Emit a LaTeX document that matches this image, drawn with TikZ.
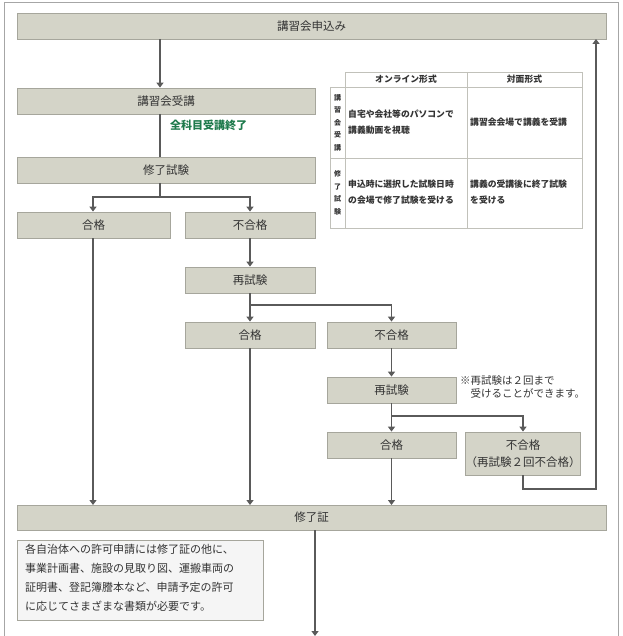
\documentclass[tikz,border=0pt]{standalone}
\usepackage{fontspec}
\setmainfont{Noto Sans CJK JP}
\usetikzlibrary{arrows.meta}
\definecolor{boxfill}{HTML}{D4D4C8}
\definecolor{boxline}{HTML}{A6A69C}
\definecolor{arr}{HTML}{5A5A5A}
\definecolor{grn}{HTML}{1E7A4C}
\definecolor{txt}{HTML}{333333}
\tikzset{
 bx/.style={draw=boxline,fill=boxfill,line width=0.8pt,text=txt,font=\fontsize{11.5}{14}\selectfont,inner sep=0pt},
 ar/.style={draw=arr,line width=1.4pt,-{Triangle[length=5pt,width=7pt]}},
 ln/.style={draw=arr,line width=1.4pt},
 tb/.style={draw=boxline!70,line width=0.6pt},
 tt/.style={font=\bfseries\fontsize{8.8}{16}\selectfont,text=txt,align=left,anchor=west,inner sep=0pt},
}
\newcommand{\bxat}[6]{\node[bx,minimum width=#4-#2,minimum height=#5-#3,align=center] (#1) at ({(#2+#4)/2},{(#3+#5)/2}) {#6};}
\begin{document}
\begin{tikzpicture}[x=1pt,y=-1pt]
\useasboundingbox (0,0) rectangle (622,636);
\draw[draw=gray!70,line width=0.8pt] (4,2) -- (618,2) -- (618,640) (4,2) -- (4,640);
\bxat{apply}{17}{13}{606}{39}{講習会申込み}
\bxat{lect}{17}{88}{315}{114}{講習会受講}
\node[text=grn,font=\bfseries\fontsize{11}{13}\selectfont,anchor=west,inner sep=0pt] (done) at (170,125) {全科目受講終了};
\bxat{exam}{17}{157}{315}{183}{修了試験}
\bxat{p1}{17}{212}{170}{238}{合格}
\bxat{f1}{185}{212}{315}{238}{不合格}
\bxat{r1}{185}{267}{315}{293}{再試験}
\bxat{p2}{185}{322}{315}{348}{合格}
\bxat{f2}{327}{322}{456}{348}{不合格}
\bxat{r2}{327}{377}{456}{403}{再試験}
\bxat{p3}{327}{432}{456}{458}{合格}
\node[bx,minimum width=110,minimum height=43,align=center,font=\fontsize{11.5}{17}\selectfont] (f3) at (523,453.5) {不合格\\（再試験２回不合格）};
\bxat{cert}{17}{505}{606}{530}{修了証}
\node[anchor=north west,text=txt,font=\fontsize{10.5}{13}\selectfont,inner sep=0pt,align=left] (note) at (460,375) {※再試験は２回まで\\\hspace*{1em}受けることができます。};
\node[draw=boxline,fill=gray!8,minimum width=246pt,minimum height=80pt,anchor=north west,inner sep=0pt] (docs) at (17,540) {};
\node[anchor=north west,text=txt,font=\fontsize{11}{19}\selectfont,align=left,inner sep=0pt] at (25,544) {各自治体への許可申請には修了証の他に、\\事業計画書、施設の見取り図、運搬車両の\\証明書、登記簿謄本など、申請予定の許可\\に応じてさまざまな書類が必要です。};
% arrows
\draw[ar] (160,39) -- (lect.north -| 160,0);
\draw[ln] (160,114) -- (160,157);
\draw[ln] (160,183) -- (160,197) coordinate (b1);
\draw[ar] (b1) -| (p1.north -| 93,0);
\draw[ar] (b1) -| (f1.north);
\draw[ar] (f1.south) -- (r1.north);
\draw[ln] (r1.south) -- (250,305) coordinate (b2);
\draw[ar] (b2) -- (p2.north);
\draw[ar] (b2) -| (f2.north);
\draw[ar] (f2.south) -- (r2.north);
\draw[ln] (r2.south) -- (391.5,416) coordinate (b3);
\draw[ar] (b3) -- (p3.north);
\draw[ar] (b3) -| (f3.north);
\draw[ar] (f3.south) -- (523,489) -- (596,489) -- (596,39);
\draw[ar] (93,238) -- (93,505);
\draw[ar] (p2.south) -- (250,505);
\draw[ar] (p3.south) -- (391.5,505);
\draw[ar] (315,530) -- (315,636);
% table
\draw[tb] (345,72) rectangle (582,228);
\draw[tb] (330,87) rectangle (345,228);
\draw[tb] (345,87) -- (582,87) (330,158) -- (582,158) (467,72) -- (467,228);
\node[tt,anchor=center] (h1) at (406,79.5) {オンライン形式};
\node[tt,anchor=center] (h2) at (524.5,79.5) {対面形式};
\node[tt,anchor=center,align=center,font=\bfseries\fontsize{7}{12.5}\selectfont] (v1) at (337.5,122.5) {講\\習\\会\\受\\講};
\node[tt,anchor=center,align=center,font=\bfseries\fontsize{7}{12.5}\selectfont] (v2) at (337.5,193) {修\\了\\試\\験};
\node[tt] (c11) at (348,122) {自宅や会社等のパソコンで\\講義動画を視聴};
\node[tt] (c12) at (470,122) {講習会会場で講義を受講};
\node[tt] (c21) at (348,192) {申込時に選択した試験日時\\の会場で修了試験を受ける};
\node[tt] (c22) at (470,192) {講義の受講後に終了試験\\を受ける};
\end{tikzpicture}
\end{document}
